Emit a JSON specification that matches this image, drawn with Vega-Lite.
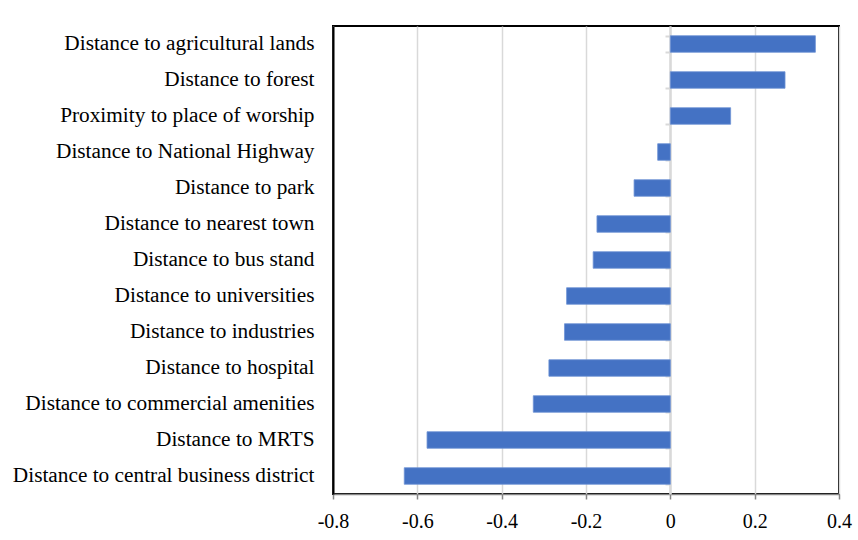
{
  "$schema": "https://vega.github.io/schema/vega-lite/v6.json",
  "width": 506,
  "height": 468,
  "autosize": {"type": "none"},
  "padding": {"left": 333, "top": 26, "right": 19, "bottom": 46},
  "background": "white",
  "view": {"stroke": "#000000", "strokeWidth": 2},
  "config": {
    "view": {"stroke": "#000000", "strokeWidth": 2},
    "font": "Liberation Serif"
  },
  "data": {
    "values": [
      {"factor": "Distance to agricultural lands", "value": 0.344},
      {"factor": "Distance to forest", "value": 0.272},
      {"factor": "Proximity to place of worship", "value": 0.143},
      {"factor": "Distance to National Highway", "value": -0.030},
      {"factor": "Distance to park", "value": -0.086},
      {"factor": "Distance to nearest town", "value": -0.174},
      {"factor": "Distance to bus stand", "value": -0.183},
      {"factor": "Distance to universities", "value": -0.246},
      {"factor": "Distance to industries", "value": -0.251},
      {"factor": "Distance to hospital", "value": -0.288},
      {"factor": "Distance to commercial amenities", "value": -0.325},
      {"factor": "Distance to MRTS", "value": -0.577},
      {"factor": "Distance to central business district", "value": -0.631}
    ]
  },
  "encoding": {
    "x": {
      "field": "value",
      "type": "quantitative",
      "scale": {"domain": [-0.8, 0.4], "nice": false, "zero": false},
      "axis": {
        "title": null,
        "values": [-0.8, -0.6, -0.4, -0.2, 0, 0.2, 0.4],
        "format": "~g",
        "labelExpr": "replace(datum.label, '\u2212', '-')",
        "labelFlush": false,
        "labelFont": "Liberation Serif",
        "labelFontSize": 20,
        "labelColor": "#000000",
        "labelPadding": 12,
        "tickSize": 5,
        "tickColor": "#868686",
        "tickWidth": 1.5,
        "domainColor": "#868686",
        "domainWidth": 1.5,
        "grid": true,
        "gridColor": "#D9D9D9",
        "gridWidth": 1.5
      }
    },
    "y": {
      "field": "factor",
      "type": "nominal",
      "sort": null,
      "scale": {"paddingInner": 0.54, "paddingOuter": 0.27}
    }
  },
  "layer": [
    {
      "mark": {"type": "bar", "color": "#4472C4", "stroke": "#6E93D6", "strokeWidth": 0.8},
      "encoding": {
        "y": {
          "field": "factor",
          "type": "nominal",
          "sort": null,
          "axis": {
            "orient": "left",
            "offset": -337,
            "title": null,
            "labels": false,
            "tickBand": "extent",
            "tickSize": 5,
            "tickColor": "#D9D9D9",
            "tickWidth": 2,
            "domainColor": "#D9D9D9",
            "domainWidth": 2.5,
            "grid": false
          }
        }
      }
    },
    {
      "mark": {"type": "bar", "opacity": 0},
      "encoding": {
        "y": {
          "field": "factor",
          "type": "nominal",
          "sort": null,
          "axis": {
            "orient": "left",
            "title": null,
            "ticks": false,
            "tickSize": 0,
            "domain": true,
            "domainColor": "#000000",
            "domainWidth": 2,
            "grid": false,
            "labelFont": "Liberation Serif",
            "labelFontSize": 21.3,
            "labelColor": "#000000",
            "labelPadding": 19,
            "labelLimit": 0
          }
        }
      }
    }
  ],
  "resolve": {"axis": {"y": "independent"}}
}
